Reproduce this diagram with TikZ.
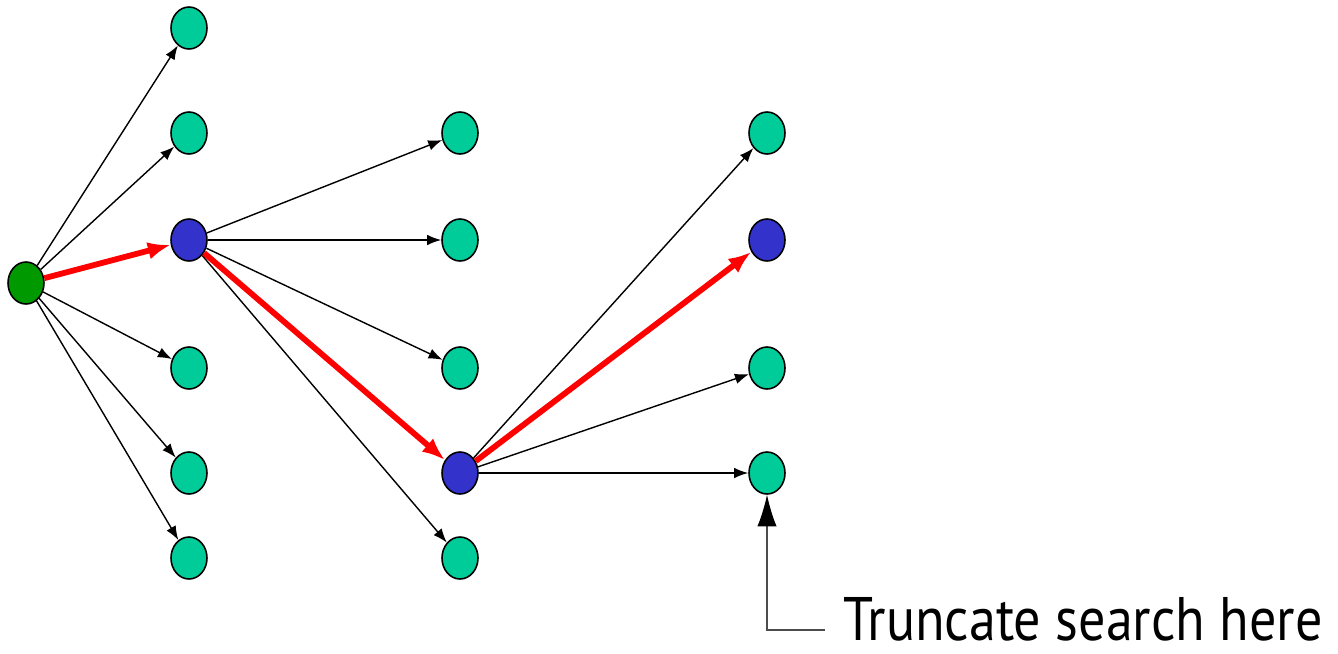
\documentclass[tikz,border=0pt]{standalone}
\usepackage{fontspec}
\newfontfamily\notefont[FakeStretch=0.88]{PT Sans}
\usetikzlibrary{arrows.meta,shapes.geometric}

\definecolor{leafc}{HTML}{00CC99}
\definecolor{pathc}{HTML}{3333CC}
\definecolor{rootc}{HTML}{009900}

\tikzset{
  st/.style={ellipse,draw=black,line width=0.9pt,minimum width=0.72cm,minimum height=0.84cm,inner sep=0pt},
  leaf/.style={st,fill=leafc},
  onpath/.style={st,fill=pathc},
  edge/.style={-{Latex[length=8pt,width=6pt]},line width=0.8pt},
  best/.style={-{Latex[length=13pt,width=10pt]},line width=3.3pt,red}
}

\begin{document}
\begin{tikzpicture}[x=0.02cm,y=-0.02cm]
	\useasboundingbox (0,0) rectangle (1338,653);
	% root and first level
	\node[st,fill=rootc] (R) at (26,283) {};
	\node[leaf] (A1) at (189,28) {};
	\node[leaf] (A2) at (189,133) {};
	\node[onpath] (A3) at (189,240) {};
	\node[leaf] (A4) at (189,368) {};
	\node[leaf] (A5) at (189,473) {};
	\node[leaf] (A6) at (189,558) {};
	% second level
	\node[leaf] (B1) at (460,133) {};
	\node[leaf] (B2) at (460,240) {};
	\node[leaf] (B3) at (460,368) {};
	\node[onpath] (B4) at (460,473) {};
	\node[leaf] (B5) at (460,558) {};
	% third level
	\node[leaf] (C1) at (767,133) {};
	\node[onpath] (C2) at (767,240) {};
	\node[leaf] (C3) at (767,368) {};
	\node[leaf] (C4) at (767,473) {};
	% ordinary expansions
	\foreach \t in {A1,A2,A4,A5,A6} \draw[edge] (R) -- (\t);
	\foreach \t in {B1,B2,B3,B5} \draw[edge] (A3) -- (\t);
	\foreach \t in {C1,C3,C4} \draw[edge] (B4) -- (\t);
	% chosen path
	\draw[best] (R) -- (A3);
	\draw[best] (A3) -- (B4);
	\draw[best] (B4) -- (C2);
	% note
	\node[anchor=base west,font=\notefont\fontsize{35}{38}\selectfont,inner sep=0pt,text depth=0pt] (note) at (843,640) {Truncate search here};
	\coordinate (bend) at (767,630);
	\draw[gray!60!black,line width=0.6pt,-{Latex[length=18pt,width=11pt,fill=black,color=black]}] (note.west|-bend) ++(-18,0) -- (bend) -- (C4);
\end{tikzpicture}
\end{document}
